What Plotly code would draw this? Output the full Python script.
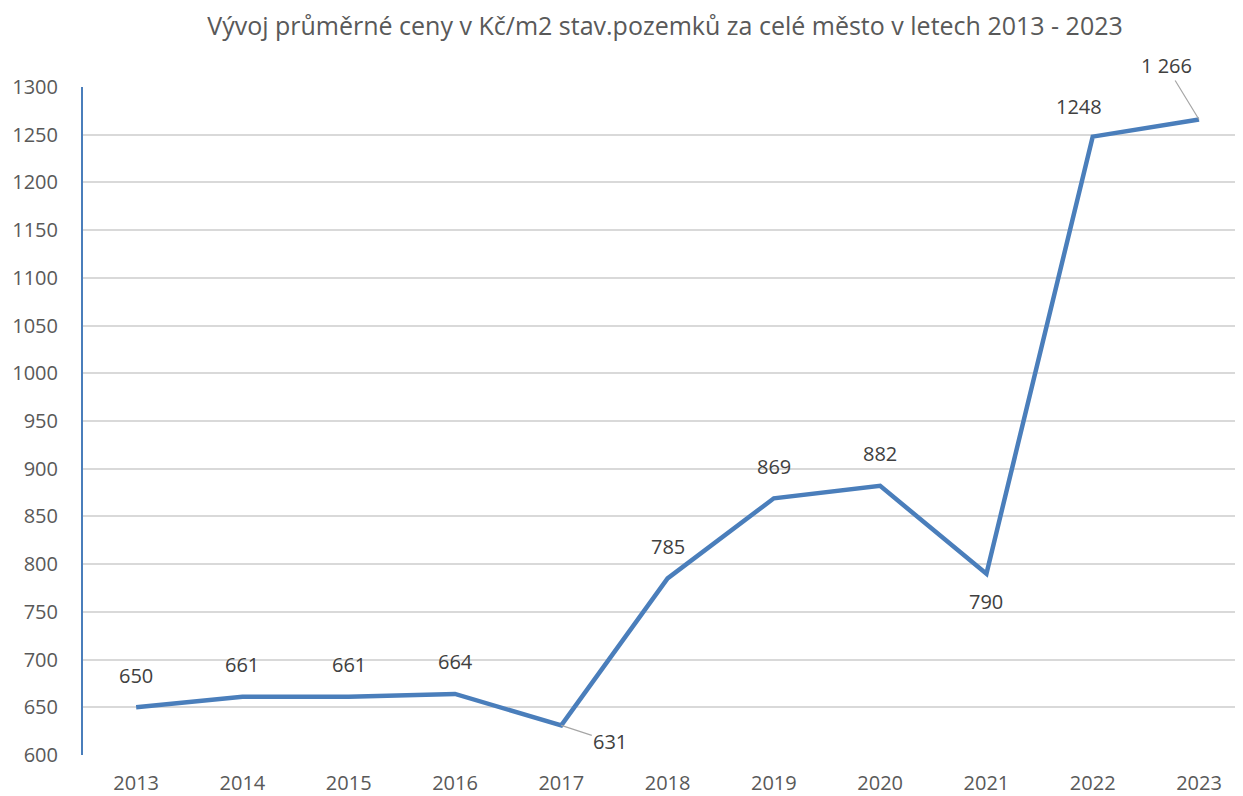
import plotly.graph_objects as go

roky = ["2013", "2014", "2015", "2016", "2017", "2018", "2019", "2020", "2021", "2022", "2023"]
ceny = [650, 661, 661, 664, 631, 785, 869, 882, 790, 1248, 1266]
popisky = ["650", "661", "661", "664", "631", "785", "869", "882", "790", "1248", "1 266"]

seda = "#595959"
font = "Open Sans"

fig = go.Figure()
fig.add_trace(go.Scatter(
    x=roky, y=ceny, mode="lines",
    line=dict(color="#4a7ebb", width=4.5),
    hoverinfo="x+y", showlegend=False,
))

# posun popisku (px) - vetsina nad bodem, 790 pod, 631 a 1 266 s odkazovou carou
posuny = {
    "2017": (49, 16, True),
    "2021": (0, 28, False),
    "2022": (-14, -30, False),
    "2023": (-33, -54, True),
}
for i, (rok, cena, txt) in enumerate(zip(roky, ceny, popisky)):
    dx, dy, sipka = posuny.get(rok, (0, -32, False))
    if sipka:
        fig.add_annotation(x=i, y=cena, text=txt, showarrow=True, ax=dx, ay=dy,
                           arrowhead=0, arrowwidth=1.2, arrowcolor="#a6a6a6",
                           font=dict(family=font, size=20, color="#404040"))
    else:
        fig.add_annotation(x=i, y=cena, text=txt, showarrow=False,
                           xshift=dx, yshift=-dy,
                           font=dict(family=font, size=20, color="#404040"))

# stranka ma okraj body 8px, proto mensi rozmery
fig.update_layout(
    width=1235, height=788,
    margin=dict(l=75, r=0, t=79, b=41),
    paper_bgcolor="white", plot_bgcolor="white",
    title=dict(text="Vývoj průměrné ceny v Kč/m2 stav.pozemků za celé město v letech 2013 - 2023",
               x=0.532, xanchor="center", y=1 - 18 / 788, yanchor="middle",
               font=dict(family=font, size=25, color=seda)),
    font=dict(family=font, color=seda),
)
fig.update_xaxes(type="category", range=[-0.5, 10.414], showgrid=False,
                 showline=False, zeroline=False, ticks="",
                 tickfont=dict(size=20, color=seda), ticklabelstandoff=14)
fig.update_yaxes(range=[600, 1300], dtick=50, showgrid=True, gridcolor="#d9d9d9",
                 gridwidth=1.5, showline=True, linecolor="#4a7ebb", linewidth=2,
                 zeroline=False, ticks="", tickfont=dict(size=20, color=seda),
                 ticklabelstandoff=19)

fig.write_html("out.html")
